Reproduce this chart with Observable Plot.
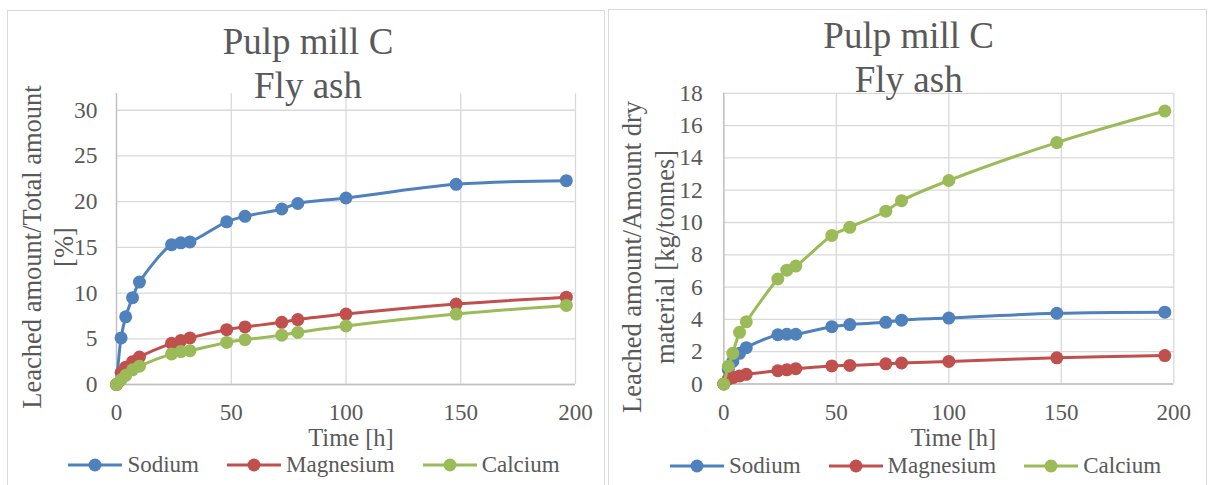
<!DOCTYPE html>
<html><head><meta charset="utf-8">
<script src="https://cdn.jsdelivr.net/npm/d3@7"></script>
<script src="https://cdn.jsdelivr.net/npm/@observablehq/plot@0.6"></script>
<style>
body{margin:0;background:#fff;}
#root{position:relative;width:1208px;height:485px;overflow:hidden;color:#595959;}
.frame{position:absolute;border:1px solid #d9d9d9;box-sizing:border-box;}
.abs{position:absolute;white-space:nowrap;}
.panel{position:absolute;top:0;}
.title{font-size:37px;line-height:44px;text-align:center;}
.xlabel{font-size:24.5px;line-height:24.5px;text-align:center;}
.ylabel{font-size:26.5px;text-align:center;transform:translate(-50%,-50%) rotate(-90deg);}
.legend{display:flex;justify-content:center;gap:28px;font-size:23px;line-height:28px;}
.item{display:inline-flex;align-items:center;gap:5px;}
</style></head><body><div id="root"></div>
<script>
// ---- data ----
const hours = [0, 2, 4, 7, 10, 24, 28, 32, 48, 56, 72, 79, 100, 148, 196];
const seriesNames = ["Sodium", "Magnesium", "Calcium"];
const seriesColors = ["#4f81bd", "#c0504d", "#9bbb59"];

// Left: Leached amount / Total amount [%]
const sodiumPct    = [0, 5.1, 7.4, 9.5, 11.2, 15.3, 15.5, 15.6, 17.8, 18.4, 19.2, 19.8, 20.4, 21.9, 22.3];
const magnesiumPct = [0, 1.3, 1.9, 2.5, 3.0, 4.5, 4.8, 5.1, 6.0, 6.3, 6.8, 7.1, 7.7, 8.8, 9.55];
const calciumPct   = [0, 0.5, 1.0, 1.6, 2.0, 3.35, 3.6, 3.7, 4.6, 4.9, 5.4, 5.7, 6.4, 7.7, 8.65];

// Right: Leached amount / Amount dry material [kg/tonnes]
const sodiumKg    = [0, 0.9, 1.4, 1.9, 2.25, 3.05, 3.08, 3.08, 3.55, 3.68, 3.82, 3.95, 4.08, 4.38, 4.45];
const magnesiumKg = [0, 0.3, 0.4, 0.5, 0.6, 0.82, 0.88, 0.95, 1.12, 1.15, 1.25, 1.3, 1.4, 1.62, 1.76];
const calciumKg   = [0, 1.1, 1.9, 3.2, 3.85, 6.5, 7.05, 7.3, 9.2, 9.7, 10.7, 11.35, 12.6, 14.95, 16.9];

const xTicks = [0, 50, 100, 150, 200];
const yTicksPct = [0, 5, 10, 15, 20, 25, 30];
const yTicksKg = [0, 2, 4, 6, 8, 10, 12, 14, 16, 18];

const titleLines = ["Pulp mill C", "Fly ash"];
const xLabel = "Time [h]";
const yLabelPct = ["Leached amount/Total amount", "[%]"];
const yLabelKg = ["Leached amount/Amount dry", "material [kg/tonnes]"];

// ---- drawing ----
const FONT = '"Liberation Serif", "Times New Roman", Tinos, serif';
const root = document.getElementById("root");
root.style.fontFamily = FONT;

function el(tag, cls, style, html) {
  const e = document.createElement(tag);
  if (cls) e.className = cls;
  e.style.fontFamily = FONT;
  Object.assign(e.style, style || {});
  if (html != null) e.innerHTML = html;
  return e;
}

function panel(cfg) {
  const data = seriesNames.flatMap((name, i) =>
    hours.map((h, j) => ({name, h, v: cfg.values[i][j]})));
  const marks = [
    Plot.gridX(xTicks, {stroke: "#d9d9d9", strokeOpacity: 1, strokeWidth: 1.3}),
    Plot.gridY(cfg.yTicks, {stroke: "#d9d9d9", strokeOpacity: 1, strokeWidth: 1.3}),
    Plot.ruleY([0], {stroke: "#bfbfbf", strokeWidth: 1.3}),
    Plot.ruleX([0], {stroke: "#bfbfbf", strokeWidth: 1.3}),
    Plot.axisX(xTicks, {tickSize: 0, tickPadding: cfg.xPad, fontSize: 23, fontFamily: FONT, fill: "#595959", label: null}),
    Plot.axisY(cfg.yTicks, {tickSize: 0, tickPadding: cfg.yPad, fontSize: 23.5, fontFamily: FONT, fill: "#595959", label: null})
  ];
  seriesNames.forEach((name, i) => {
    const d = data.filter(r => r.name === name);
    marks.push(Plot.line(d, {x: "h", y: "v", stroke: seriesColors[i], strokeWidth: 3, curve: "catmull-rom"}));
    marks.push(Plot.dot(d, {x: "h", y: "v", fill: seriesColors[i], r: 6.5}));
  });
  const svg = Plot.plot({
    width: 604, height: 485,
    marginLeft: cfg.mL, marginRight: cfg.mR, marginTop: cfg.mT, marginBottom: cfg.mB,
    style: {fontFamily: FONT, fontSize: "24px", color: "#595959", background: "transparent", overflow: "visible"},
    x: {domain: [0, 200]},
    y: {domain: cfg.yDomain},
    marks
  });
  svg.style.fontFamily = FONT;
  const wrap = el("div", "panel", {left: cfg.left + "px", width: "604px", height: "485px"});
  wrap.appendChild(svg);
  root.appendChild(wrap);

  root.appendChild(el("div", "abs title", {left: (cfg.titleCx - 300) + "px", width: "600px", top: cfg.titleTop + "px"}, titleLines.join("<br>")));
  root.appendChild(el("div", "abs xlabel", {left: (cfg.xlCx - 150) + "px", width: "300px", top: cfg.xlTop + "px"}, xLabel));
  root.appendChild(el("div", "abs ylabel", {left: cfg.ylCx + "px", top: cfg.ylCy + "px", lineHeight: cfg.ylLh + "px"}, cfg.yLabel.join("<br>")));
  const lg = el("div", "abs legend", {left: (cfg.lgCx - 300) + "px", width: "600px", top: cfg.lgTop + "px"});
  seriesNames.forEach((name, i) => {
    const it = el("span", "item");
    it.innerHTML = `<svg width="54" height="28"><line x1="0" x2="54" y1="14" y2="14" stroke="${seriesColors[i]}" stroke-width="3"/><circle cx="27" cy="14" r="6.5" fill="${seriesColors[i]}"/></svg><span style='font-family:"Liberation Serif", serif'>${name}</span>`;
    lg.appendChild(it);
  });
  root.appendChild(lg);
}

root.appendChild(el("div", "frame", {left: "7px", top: "10px", width: "598px", height: "500px"}));
root.appendChild(el("div", "frame", {left: "608px", top: "9px", width: "599px", height: "500px"}));

panel({
  left: 0, values: [sodiumPct, magnesiumPct, calciumPct],
  yDomain: [0, 31.8], yTicks: yTicksPct,
  mL: 116, mR: 29, mT: 93.3, mB: 101, xPad: 19.2, yPad: 19,
  titleCx: 308, titleTop: 19.8,
  xlCx: 351, xlTop: 426,
  ylCx: 47.6, ylCy: 247, ylLh: 32, yLabel: yLabelPct,
  lgCx: 314, lgTop: 450.75
});
panel({
  left: 604, values: [sodiumKg, magnesiumKg, calciumKg],
  yDomain: [0, 18], yTicks: yTicksKg,
  mL: 119.3, mR: 34.7, mT: 92.8, mB: 101.5, xPad: 19.2, yPad: 21,
  titleCx: 908.7, titleTop: 13.8,
  xlCx: 953.5, xlTop: 426,
  ylCx: 648.5, ylCy: 257, ylLh: 33, yLabel: yLabelKg,
  lgCx: 915.6, lgTop: 452.25
});
</script></body></html>
